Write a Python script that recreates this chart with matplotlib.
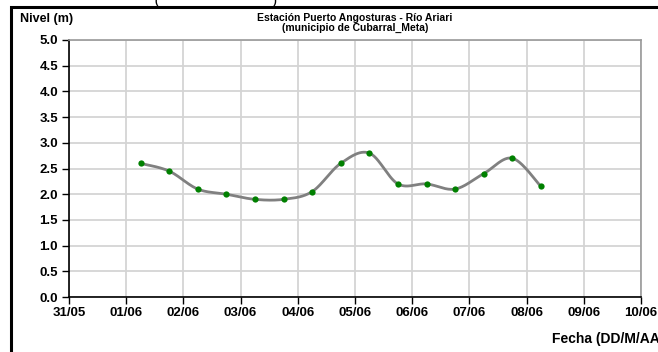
import numpy as np
import pandas as pd
import matplotlib
matplotlib.use('Agg')
import matplotlib.pyplot as plt
import matplotlib.dates as mdates
from matplotlib.patches import Rectangle

# Lecturas del nivel (m), cada 12 horas
fechas = ['2011-06-01 06:00', '2011-06-01 18:00', '2011-06-02 06:00', '2011-06-02 18:00',
          '2011-06-03 06:00', '2011-06-03 18:00', '2011-06-04 06:00', '2011-06-04 18:00',
          '2011-06-05 06:00', '2011-06-05 18:00', '2011-06-06 06:00', '2011-06-06 18:00',
          '2011-06-07 06:00', '2011-06-07 18:00', '2011-06-08 06:00']
nivel = [2.6, 2.45, 2.1, 2.0, 1.9, 1.9, 2.05, 2.6, 2.8, 2.2, 2.2, 2.1, 2.4, 2.7, 2.15]

x_ini, x_fin = '2011-05-31', '2011-06-10'
y_ticks = [0.0, 0.5, 1.0, 1.5, 2.0, 2.5, 3.0, 3.5, 4.0, 4.5, 5.0]

titulo = 'Estación Puerto Angosturas - Río Ariari\n(municipio de Cubarral_Meta)'


def curva_suave(x, y, n=30):
    # linea suavizada tipo Excel (bezier con tangentes catmull-rom)
    xs, ys = [], []
    x = np.asarray(x, float)
    y = np.asarray(y, float)
    for i in range(len(x) - 1):
        p0 = np.array([x[max(i - 1, 0)], y[max(i - 1, 0)]])
        p1 = np.array([x[i], y[i]])
        p2 = np.array([x[i + 1], y[i + 1]])
        p3 = np.array([x[min(i + 2, len(x) - 1)], y[min(i + 2, len(x) - 1)]])
        c1 = p1 + (p2 - p0) / 6.0
        c2 = p2 - (p3 - p1) / 6.0
        t = np.linspace(0, 1, n)[:, None]
        pts = ((1 - t) ** 3) * p1 + 3 * ((1 - t) ** 2) * t * c1 + 3 * (1 - t) * t ** 2 * c2 + t ** 3 * p2
        xs.extend(pts[:, 0])
        ys.extend(pts[:, 1])
    return np.array(xs), np.array(ys)


plt.rcParams['font.family'] = ['Liberation Sans', 'DejaVu Sans']

fig = plt.figure(figsize=(6.58, 3.52), dpi=100)
ax = fig.add_axes([69 / 658, 1 - 297 / 352, 572 / 658, 257 / 352])

# marco negro del grafico (cortado a la derecha y abajo)
fig.patches.append(Rectangle((11 / 658, -0.1), 1.2, 1 - 7 / 352 + 0.1, transform=fig.transFigure,
                             fill=False, edgecolor='black', linewidth=2.2, zorder=0))

xd = mdates.date2num(pd.to_datetime(fechas))
sx, sy = curva_suave(xd, nivel)
ax.plot(sx, sy, color='#808080', linewidth=2, zorder=3)
ax.plot(xd, nivel, 'o', color='#008000', markersize=4.5, markeredgewidth=0, zorder=4)

ax.set_xlim(mdates.date2num(pd.Timestamp(x_ini)), mdates.date2num(pd.Timestamp(x_fin)))
ax.set_ylim(0, 5)
ax.xaxis.set_major_locator(mdates.DayLocator())
ax.xaxis.set_major_formatter(mdates.DateFormatter('%d/%m'))
ax.set_yticks(y_ticks)
ax.set_yticklabels([f'{v:.1f}' for v in y_ticks])

ax.grid(True, color='#d4d4d4', linewidth=1.3)
ax.set_axisbelow(True)
for s in ['top', 'right']:
    ax.spines[s].set_color('#9a9a9a')
    ax.spines[s].set_linewidth(1.2)
ax.spines['left'].set_linewidth(1.2)
ax.spines['bottom'].set_linewidth(1.2)
ax.tick_params(axis='both', direction='out', length=5, width=1, labelsize=9.5)
ax.tick_params(axis='x', pad=2)
ax.tick_params(axis='y', pad=3)
for lab in ax.get_xticklabels() + ax.get_yticklabels():
    lab.set_fontweight('bold')

fig.text(20 / 658, 1 - 19 / 352, 'Nivel (m)', fontsize=9, fontweight='bold', va='center')
fig.text(355 / 658, 1 - 13 / 352, titulo, fontsize=7.5, fontweight='bold', ha='center', va='top',
         linespacing=1.0)
fig.text(552 / 658, 1 - 339 / 352, 'Fecha (DD/M/AA)', fontsize=10, fontweight='bold', va='center')
# restos del titulo superior cortado
fig.text(216 / 658, 1 - 1 / 352, '(                                        )', fontsize=7.5,
         fontweight='bold', ha='center', va='center')

fig.savefig('out.png', dpi=100)
